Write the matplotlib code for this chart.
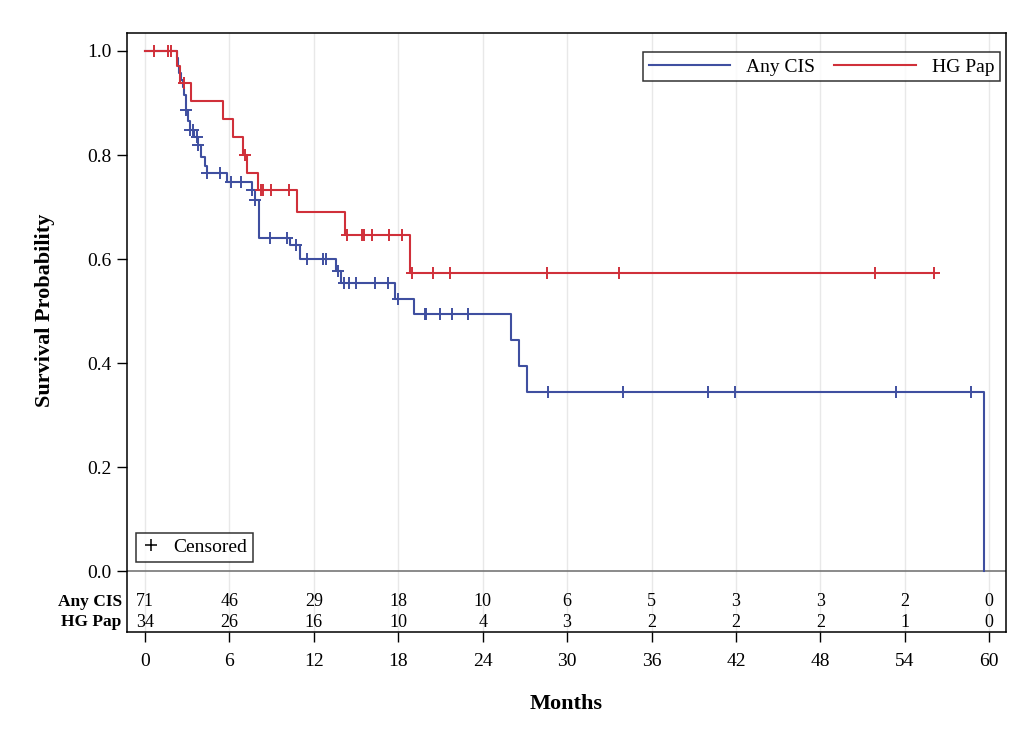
import numpy as np
import matplotlib
matplotlib.use("Agg")
import matplotlib.pyplot as plt
from matplotlib.lines import Line2D

plt.rcParams['font.family'] = ['Liberation Serif', 'DejaVu Serif']

# Kaplan-Meier steps (time in months, survival after the drop)
cis_times = [0, 2.25, 2.35, 2.45, 2.55, 2.7, 2.8, 2.9, 3.05, 3.2, 3.5, 3.75, 3.96, 4.26,
             4.38, 5.8, 7.58, 7.82, 8.1, 10.3, 11.0, 13.57, 13.9, 17.77, 19.14, 25.99,
             26.58, 27.15, 59.63]
cis_surv = [1.0, 0.986, 0.972, 0.958, 0.944, 0.93, 0.915, 0.887, 0.866, 0.848, 0.834,
            0.82, 0.797, 0.778, 0.765, 0.749, 0.733, 0.713, 0.64, 0.627, 0.60, 0.577,
            0.553, 0.524, 0.494, 0.444, 0.395, 0.345, 0.0]
cis_censor = [2.92, 3.22, 3.43, 3.67, 3.79, 4.4, 5.33, 6.11, 6.82, 7.6, 7.85, 8.88, 10.07,
              10.73, 11.49, 12.67, 12.86, 13.74, 14.17, 14.52, 15.0, 16.35, 17.3, 18.0,
              19.9, 19.97, 21.0, 21.84, 22.98, 28.67, 34.0, 40.04, 41.93, 53.38, 58.7]

pap_times = [0, 2.25, 2.5, 3.25, 5.57, 6.28, 7.0, 7.23, 8.0, 10.78, 14.21, 18.83]
pap_surv = [1.0, 0.971, 0.938, 0.903, 0.869, 0.835, 0.80, 0.766, 0.733, 0.69, 0.646, 0.574]
pap_censor = [0.66, 1.66, 1.83, 2.8, 7.1, 8.24, 8.37, 8.96, 10.26, 14.33, 15.4, 15.57,
              16.1, 17.34, 18.24, 18.95, 20.5, 21.7, 28.55, 33.7, 51.9, 56.1]

# numbers at risk
risk_times = [0, 6, 12, 18, 24, 30, 36, 42, 48, 54, 60]
cis_risk = [71, 46, 29, 18, 10, 6, 5, 3, 3, 2, 0]
pap_risk = [34, 26, 16, 10, 4, 3, 2, 2, 2, 1, 0]

blue = '#3f4fa0'
red = '#d0303a'


def level_at(times, surv, t):
    idx = np.searchsorted(times, t, side='right') - 1
    return np.array(surv)[idx]


fig = plt.figure(figsize=(10.28, 7.4), dpi=100)
ax = fig.add_axes([0.1235, 0.1459, 0.8551, 0.8095])

for x in risk_times:
    ax.axvline(x, color='#e8e8e8', lw=1, zorder=0)
ax.axhline(0, color='#777777', lw=1.2, zorder=1)

ax.step(cis_times, cis_surv, where='post', color=blue, lw=1.5, label='Any CIS')
pt = pap_times + [pap_censor[-1]]
ps = pap_surv + [pap_surv[-1]]
ax.step(pt, ps, where='post', color=red, lw=1.5, label='HG Pap')

ax.plot(cis_censor, level_at(cis_times, cis_surv, cis_censor), '+', color=blue,
        ms=9, mew=1.4, ls='none')
ax.plot(pap_censor, level_at(pap_times, pap_surv, pap_censor), '+', color=red,
        ms=9, mew=1.4, ls='none')

# at-risk table inside the frame
for x, a, b in zip(risk_times, cis_risk, pap_risk):
    ax.text(x, -0.059, str(a), ha='center', va='center', fontsize=13)
    ax.text(x, -0.0987, str(b), ha='center', va='center', fontsize=13)
ax.text(-0.006, -0.059, 'Any CIS', transform=ax.get_yaxis_transform(), ha='right',
        va='center', fontsize=12.5, fontweight='bold')
ax.text(-0.006, -0.0987, 'HG Pap', transform=ax.get_yaxis_transform(), ha='right',
        va='center', fontsize=12.5, fontweight='bold')

ax.set_xlim(-1.279, 61.19)
ax.set_ylim(-0.1173, 1.0346)
ax.set_xticks(risk_times)
ax.set_yticks([0.0, 0.2, 0.4, 0.6, 0.8, 1.0])
ax.set_yticklabels(['0.0', '0.2', '0.4', '0.6', '0.8', '1.0'])
ax.tick_params(axis='both', direction='out', length=7, width=1, labelsize=14, pad=4)
ax.tick_params(axis='x', pad=8)
for s in ax.spines.values():
    s.set_linewidth(1.1)

ax.set_xlabel('Months', fontsize=16, fontweight='bold')
ax.xaxis.set_label_coords(0.5, -0.1035)
ax.set_ylabel('Survival Probability', fontsize=16, fontweight='bold')
ax.yaxis.set_label_coords(-0.082, 0.5376)

leg = ax.legend(loc='upper right', bbox_to_anchor=(0.993, 0.968), ncol=2, fontsize=14,
                frameon=True, fancybox=False, edgecolor='black', borderaxespad=0,
                handlelength=4.2, columnspacing=1.0, borderpad=0.3, handletextpad=0.8)
leg.get_frame().set_linewidth(1.1)
ax.add_artist(leg)

cens = Line2D([], [], color='black', marker='+', ls='none', ms=9, mew=1.1)
leg2 = ax.legend([cens], ['Censored'], loc='lower left', bbox_to_anchor=(0.0102, 0.117),
                 fontsize=14, frameon=True, fancybox=False, edgecolor='black',
                 borderaxespad=0, handlelength=1.0, borderpad=0.3, handletextpad=0.6)
leg2.get_frame().set_linewidth(1.1)

fig.savefig('out.png', dpi=100)
